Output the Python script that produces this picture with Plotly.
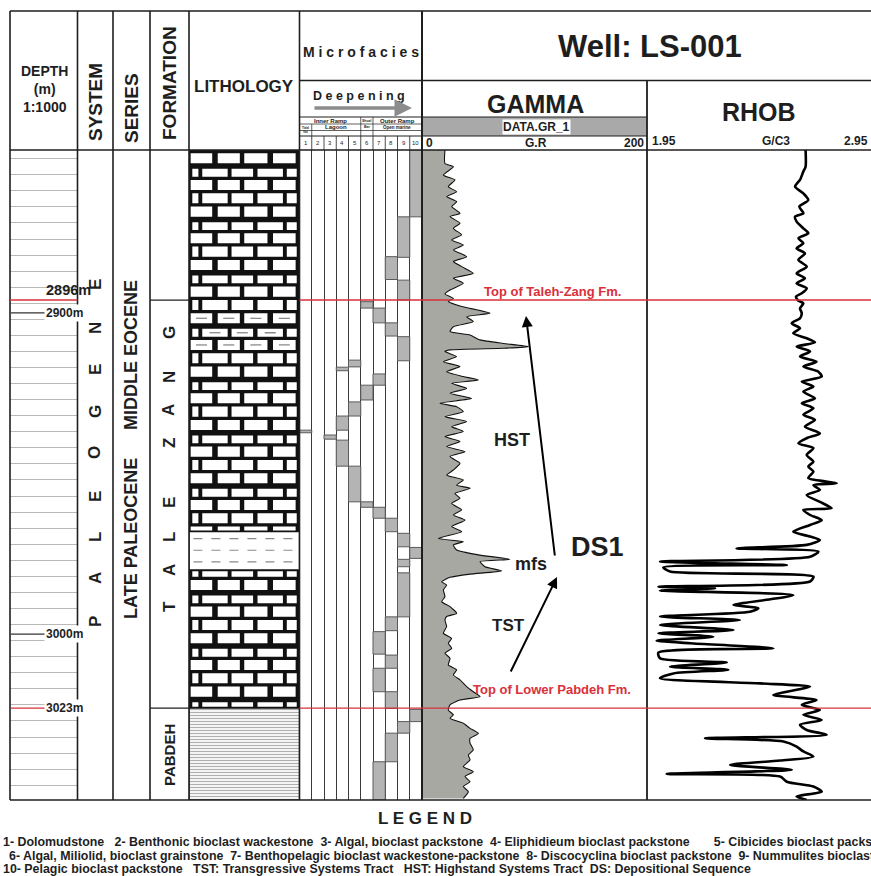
import plotly.graph_objects as go

W, H = 871, 876
def px(x): return x / W
def py(y): return 1 - y / H

# ---------------- data ----------------
DEPTH_TOP, DEPTH_BOT = 2849.3, 3051.6
FM_TOP_DEPTHS = [2896, 3023]
FM_TOP_LABELS = ['Top of Taleh-Zang Fm.', 'Top of Lower Pabdeh Fm.']
DEPTH_MARKS = [2896, 2900, 3000, 3023]
DEPTH_MARK_LABELS = ['2896m', '2900m', '3000m', '3023m']

LITH_TOP = [2849.3, 2968.1, 2980.0, 3023.0]
LITH_BOT = [2968.1, 2980.0, 3023.0, 3051.6]
LITH_KIND = ['limestone', 'marl', 'limestone', 'shale']
ARG_TOP, ARG_BOT = 2901.0, 2911.8

MF_NUMBERS = list(range(1, 11))
MF_COL = [10, 10, 10, 9, 9, 9, 9, 9, 9, 9, 8, 8, 8, 8, 8, 8, 8, 7, 7, 7, 7, 7, 7,
          6, 6, 6, 5, 5, 5, 4, 4, 4, 3, 1]
MF_TOP = [2849.3, 2973.0, 3023.4, 2870.1, 2889.8, 2907.4, 2968.6, 2976.7, 2980.9, 3027.2,
          2882.5, 2903.1, 2963.9, 2994.6, 3006.5, 3017.9, 3030.8,
          2898.5, 2919.0, 2960.5, 2999.2, 3010.6, 3039.7,
          2896.5, 2922.5, 2958.8, 2914.7, 2927.7, 2947.7, 2916.9, 2932.1, 2939.6, 2938.0, 2936.5]
MF_BOT = [2870.1, 2976.4, 3027.2, 2882.7, 2896.0, 2914.9, 2972.8, 2979.0, 2994.6, 3030.8,
          2889.6, 2907.2, 2968.1, 2998.9, 3010.6, 3023.1, 3039.7,
          2903.1, 2922.5, 2963.9, 3006.2, 3017.9, 3051.6,
          2898.5, 2927.1, 2960.5, 2916.8, 2932.1, 2958.8, 2918.0, 2936.5, 2947.7, 2939.3, 2937.3]

GR_DEPTH = [2849.3, 2853.5, 2854.5, 2857.1, 2858.6, 2860.7, 2862.3, 2863.8, 2865.4, 2866.9,
            2869.0, 2870.0, 2872.1, 2873.7, 2875.7, 2877.3, 2878.9, 2880.4, 2882.5, 2884.0,
            2885.6, 2887.7, 2889.2, 2890.8, 2892.9, 2894.1, 2895.5, 2896.5, 2898.0, 2900.1,
            2901.2, 2902.7, 2904.3, 2905.8, 2906.9, 2908.4, 2909.5, 2910.5, 2911.0, 2911.5,
            2912.0, 2913.6, 2915.2, 2916.7, 2918.3, 2919.8, 2920.9, 2921.9, 2923.5, 2925.0,
            2926.6, 2928.1, 2929.2, 2930.7, 2932.3, 2933.8, 2935.4, 2936.9, 2938.5, 2940.0,
            2941.6, 2943.2, 2944.7, 2946.8, 2948.9, 2950.5, 2952.0, 2953.6, 2954.6, 2956.2,
            2957.7, 2959.3, 2961.3, 2962.9, 2964.5, 2966.5, 2968.1, 2970.2, 2971.2, 2972.2,
            2973.8, 2975.3, 2976.7, 2977.4, 2979.0, 2980.3, 2981.3, 2982.3, 2983.7, 2984.7,
            2986.2, 2988.3, 2989.9, 2991.4, 2993.5, 2994.5, 2995.6, 2997.6, 2999.7, 3001.3,
            3002.8, 3004.4, 3005.9, 3007.5, 3009.6, 3011.1, 3012.7, 3014.2, 3016.3, 3017.9,
            3019.4, 3020.5, 3022.0, 3023.6, 3025.1, 3026.2, 3027.7, 3029.3, 3030.9, 3032.4,
            3033.9, 3036.0, 3037.6, 3039.1, 3041.2, 3042.8, 3044.3, 3045.9, 3047.4, 3049.0,
            3051.1]
GR_VAL = [20.4, 20.4, 27.9, 19.0, 29.3, 23.4, 30.8, 21.9, 30.8, 26.4,
          33.8, 24.9, 33.8, 27.9, 35.3, 26.4, 36.7, 27.9, 39.7, 27.9,
          35.3, 45.6, 27.9, 36.7, 24.9, 20.4, 27.9, 23.4, 35.3, 60.4,
          39.7, 45.6, 27.9, 24.9, 42.7, 51.6, 72.3, 94.5, 72.3, 24.9,
          20.4, 30.8, 19.0, 33.8, 21.9, 36.7, 50.1, 26.4, 39.7, 24.9,
          44.1, 16.0, 30.8, 36.7, 20.4, 39.7, 26.4, 36.7, 20.4, 33.8,
          21.9, 38.2, 24.9, 33.8, 27.9, 21.9, 36.7, 30.8, 42.7, 29.3,
          33.8, 26.4, 35.3, 27.9, 38.2, 26.4, 35.3, 14.5, 36.7, 27.9,
          30.8, 50.1, 78.2, 51.6, 56.0, 70.8, 42.7, 24.9, 17.5, 21.9,
          19.0, 20.4, 17.5, 24.9, 30.8, 21.9, 20.4, 21.9, 19.0, 26.4,
          23.4, 26.4, 20.4, 24.9, 23.4, 30.8, 27.9, 33.8, 39.7, 45.6,
          51.6, 33.8, 24.9, 23.4, 27.9, 24.9, 36.7, 42.7, 50.1, 42.7,
          42.7, 45.6, 41.2, 42.7, 36.7, 45.6, 38.2, 42.7, 36.7, 41.2,
          36.7]

RHOB_DEPTH = [2849.3, 2854.5, 2856.0, 2858.6, 2860.7, 2862.8, 2864.9, 2866.9, 2869.0, 2870.0,
              2871.6, 2873.7, 2875.2, 2876.8, 2878.3, 2879.9, 2881.5, 2883.5, 2885.6, 2887.7,
              2889.2, 2890.8, 2892.3, 2893.9, 2894.9, 2896.2, 2897.0, 2898.6, 2900.1, 2901.7,
              2903.2, 2904.8, 2906.3, 2907.9, 2909.2, 2910.5, 2912.0, 2913.6, 2915.2, 2916.7,
              2918.3, 2919.8, 2921.4, 2922.9, 2924.5, 2926.6, 2928.1, 2929.7, 2931.7, 2933.3,
              2935.4, 2937.5, 2939.0, 2940.6, 2942.1, 2944.2, 2946.3, 2947.8, 2949.4, 2951.4,
              2953.0, 2953.6, 2955.1, 2956.7, 2958.8, 2960.8, 2961.3, 2962.9, 2964.5, 2966.0,
              2968.1, 2969.6, 2970.7, 2972.2, 2973.3, 2974.3, 2975.9, 2977.4, 2978.5, 2979.2,
              2980.5, 2982.1, 2983.6, 2985.2, 2985.7, 2986.4, 2987.8, 2989.3, 2990.9, 2991.9,
              2993.0, 2994.5, 2995.6, 2997.1, 2998.7, 2999.7, 3000.8, 3002.0, 3002.8, 3004.4,
              3005.7, 3007.5, 3008.8, 3010.1, 3011.1, 3012.2, 3013.7, 3015.3, 3016.3, 3017.3,
              3018.9, 3020.5, 3022.0, 3023.6, 3025.1, 3026.7, 3028.2, 3029.8, 3031.3, 3032.4,
              3033.4, 3035.0, 3036.5, 3038.1, 3039.3, 3040.7, 3042.2, 3043.5, 3044.3, 3045.9,
              3047.4, 3049.0, 3050.5, 3051.6]
RHOB_VAL = [2.658, 2.658, 2.648, 2.633, 2.611, 2.648, 2.670, 2.630, 2.648, 2.611,
            2.618, 2.648, 2.670, 2.626, 2.648, 2.618, 2.655, 2.626, 2.663, 2.618,
            2.655, 2.618, 2.663, 2.641, 2.615, 2.626, 2.648, 2.633, 2.641, 2.633,
            2.596, 2.633, 2.603, 2.663, 2.700, 2.618, 2.678, 2.633, 2.707, 2.648,
            2.715, 2.730, 2.641, 2.693, 2.648, 2.700, 2.641, 2.693, 2.648, 2.700,
            2.655, 2.722, 2.663, 2.626, 2.693, 2.663, 2.693, 2.670, 2.693, 2.670,
            2.797, 2.693, 2.722, 2.663, 2.722, 2.774, 2.648, 2.678, 2.730, 2.678,
            2.603, 2.678, 2.722, 2.663, 2.350, 2.715, 2.678, 2.008, 2.574, 2.023,
            2.053, 2.693, 2.678, 2.001, 2.254, 2.008, 2.603, 2.484, 2.336, 2.447,
            2.410, 2.008, 2.365, 2.008, 2.336, 2.001, 2.246, 1.993, 2.142, 2.514,
            2.001, 2.008, 2.306, 2.053, 2.313, 2.068, 2.008, 2.455, 2.678, 2.618,
            2.514, 2.707, 2.641, 2.722, 2.648, 2.730, 2.633, 2.663, 2.752, 2.209,
            2.559, 2.618, 2.648, 2.693, 2.544, 2.321, 2.596, 2.038, 2.544, 2.574,
            2.693, 2.730, 2.618, 2.663]

LEGEND_LINES = [
    '1- Dolomudstone   2- Benthonic bioclast wackestone  3- Algal, bioclast packstone  4- Eliphidieum bioclast packstone       5- Cibicides bioclast packstone',
    '6- Algal, Miliolid, bioclast grainstone  7- Benthopelagic bioclast wackestone-packstone  8- Discocyclina bioclast packstone  9- Nummulites bioclast packstone',
    '10- Pelagic bioclast packstone   TST: Transgressive Systems Tract   HST: Highstand Systems Tract  DS: Depositional Sequence',
]

# ---------------- figure ----------------
FONT = 'Liberation Sans, Arial, sans-serif'
INK = '#1e1e1e'
RED = '#d9303a'
fig = go.Figure()

# depth column (only grid)
fig.add_trace(go.Scatter(x=[0.5], y=[2950], mode='markers', marker=dict(opacity=0),
                         xaxis='x', yaxis='y2', hoverinfo='skip'))

# lithology
for t, b, k in zip(LITH_TOP, LITH_BOT, LITH_KIND):
    if k == 'limestone':
        marker = dict(color='#111111', line=dict(width=0))
    elif k == 'marl':
        marker = dict(color='white', line=dict(color='#111', width=1.2))
    else:
        marker = dict(color='#f4f4f4', line=dict(color='#111', width=1.2),
                      pattern=dict(shape='-', fgcolor='#6a6a6a', bgcolor='#f4f4f4',
                                   size=3, solidity=0.35))
    fig.add_trace(go.Bar(x=[0.5], y=[b - t], base=[t], width=[1.0], marker=marker,
                         xaxis='x2', yaxis='y', hoverinfo='skip'))

# brick pattern for limestone (style only)
ROW_P = 4.15
PAT_A = [(0.015, 0.21), (0.26, 0.46), (0.50, 0.71), (0.76, 0.965)]
PAT_B = [(0.03, 0.085), (0.12, 0.35), (0.385, 0.58), (0.62, 0.85), (0.885, 0.975)]
bx, by, dxs, dys = [], [], [], []
r = 0
d = DEPTH_TOP
while d < DEPTH_BOT:
    gap = 1.7 if r % 4 == 1 else 1.0
    y0, y1 = d + gap, d + ROW_P
    for t, b, k in zip(LITH_TOP, LITH_BOT, LITH_KIND):
        if k != 'limestone':
            continue
        a0, a1 = max(y0, t + 0.4), min(y1, b - 0.4)
        if a1 - a0 < 0.8:
            continue
        for x0, x1 in (PAT_A if r % 2 == 0 else PAT_B):
            bx += [x0, x1, x1, x0, x0, None]
            by += [a0, a0, a1, a1, a0, None]
            ym = (a0 + a1) / 2
            if ARG_TOP <= ym <= ARG_BOT and x1 - x0 > 0.1:
                xm = (x0 + x1) / 2
                dxs += [xm - 0.05, xm + 0.05, None]
                dys += [ym, ym, None]
    d += ROW_P
    r += 1
fig.add_trace(go.Scatter(x=bx, y=by, mode='lines', fill='toself', fillcolor='white',
                         line=dict(width=0, color='white'), xaxis='x2', yaxis='y', hoverinfo='skip'))
fig.add_trace(go.Scatter(x=dxs, y=dys, mode='lines', line=dict(width=1.3, color='#8a8a8a'),
                         xaxis='x2', yaxis='y', hoverinfo='skip'))
# marl dashes
for t, b, k in zip(LITH_TOP, LITH_BOT, LITH_KIND):
    if k == 'marl':
        for i in range(3):
            yy = t + (i + 0.6) * (b - t) / 3.3
            fig.add_trace(go.Scatter(x=[0.04, 0.97], y=[yy, yy], mode='lines',
                                     line=dict(color='#8a8a8a', width=1.2, dash='dash'),
                                     xaxis='x2', yaxis='y', hoverinfo='skip'))

# microfacies
fig.add_trace(go.Bar(x=MF_COL, y=[b - t for t, b in zip(MF_TOP, MF_BOT)], base=MF_TOP,
                     width=1.0, marker=dict(color='#b4b4b4', line=dict(color='#5a5a5a', width=1)),
                     xaxis='x3', yaxis='y', hoverinfo='skip'))

# gamma ray
fig.add_trace(go.Scatter(x=GR_VAL, y=GR_DEPTH, mode='lines', fill='tozerox',
                         fillcolor='#a8a8a3', line=dict(color='#111', width=1.1, shape='spline', smoothing=0.5),
                         xaxis='x4', yaxis='y', hoverinfo='skip'))
# density
fig.add_trace(go.Scatter(x=RHOB_VAL, y=RHOB_DEPTH, mode='lines',
                         line=dict(color='#000', width=2.6, shape='spline', smoothing=0.7),
                         xaxis='x5', yaxis='y', hoverinfo='skip'))

# ---------------- axes ----------------
body = [py(800), py(150)]
yr = [DEPTH_BOT, DEPTH_TOP]
hidden = dict(visible=False, fixedrange=True)
fig.update_layout(
    width=W, height=H, margin=dict(l=0, r=0, t=0, b=0),
    paper_bgcolor='white', plot_bgcolor='white', showlegend=False, barmode='overlay',
    xaxis=dict(domain=[px(10), px(77.5)], range=[0, 1], anchor='y2', **hidden),
    yaxis2=dict(domain=body, range=yr, anchor='x', showgrid=True, gridcolor='#b9b9b9', gridwidth=1,
                tick0=2852, dtick=5, showticklabels=False, ticks='', zeroline=False, showline=False),
    xaxis2=dict(domain=[px(189), px(299.5)], range=[0, 1], anchor='y', **hidden),
    xaxis3=dict(domain=[px(299.5), px(422)], range=[0.5, 10.5], anchor='y',
                tickvals=[i + 0.5 for i in range(1, 10)], showgrid=True, gridcolor='#3a3a3a',
                gridwidth=1.4, showticklabels=False, ticks='', zeroline=False, showline=False),
    xaxis4=dict(domain=[px(422), px(647)], range=[0, 200], anchor='y', **hidden),
    xaxis5=dict(domain=[px(647), 1.0], range=[1.95, 2.95], anchor='y', **hidden),
    yaxis=dict(domain=body, range=yr, anchor='x2', **hidden),
)

# ---------------- frame lines ----------------
shapes = []
def hl(y, x0, x1, w=1.5, c=INK):
    shapes.append(dict(type='line', xref='paper', yref='paper', x0=px(x0), x1=px(x1),
                       y0=py(y), y1=py(y), line=dict(color=c, width=w)))
def vl(x, y0, y1, w=1.5, c=INK):
    shapes.append(dict(type='line', xref='paper', yref='paper', x0=px(x), x1=px(x),
                       y0=py(y0), y1=py(y1), line=dict(color=c, width=w)))

shapes.append(dict(type='rect', xref='paper', yref='paper', x0=px(422), x1=px(647),
                   y0=py(136), y1=py(117), fillcolor='#a9a9a9', line=dict(width=0), layer='below'))
hl(11, 10, 871, 2.2, '#555')
hl(80.5, 299.5, 871, 1.6)
hl(150, 10, 871, 1.6)
hl(800, 10, 871, 1.6)
hl(117, 299.5, 647, 1)
hl(124, 299.5, 422, 0.7)
hl(130.5, 299.5, 422, 0.7)
hl(136, 299.5, 647, 1)
for x in [10, 77.5, 113, 150, 189, 299.5]:
    vl(x, 11, 800, 1.6)
vl(422, 11, 800, 2)
vl(647, 80.5, 800, 1.8)
cw = (422 - 299.5) / 10
for i in range(1, 10):
    vl(299.5 + i * cw, 136, 150, 0.8)
vl(299.5 + cw, 124, 136, 0.7)
vl(299.5 + 5 * cw, 117, 136, 0.7)
vl(299.5 + 6 * cw, 117, 136, 0.7)

# formation boundaries in formation column and formation-top lines
for dpt in FM_TOP_DEPTHS:
    shapes.append(dict(type='line', xref='paper', yref='y', x0=px(150), x1=px(189),
                       y0=dpt, y1=dpt, line=dict(color=INK, width=1.3)))
    shapes.append(dict(type='line', xref='paper', yref='y', x0=px(299.5), x1=1.0,
                       y0=dpt, y1=dpt, line=dict(color=RED, width=1.4)))

# depth marks
for dpt, lab in zip(DEPTH_MARKS, DEPTH_MARK_LABELS):
    red = dpt in FM_TOP_DEPTHS
    if dpt == 2896:
        shapes.append(dict(type='line', xref='paper', yref='y', x0=px(10), x1=px(77.5),
                           y0=dpt, y1=dpt, line=dict(color=RED, width=1.4)))
    else:
        shapes.append(dict(type='line', xref='paper', yref='y', x0=px(11), x1=px(76.5),
                           y0=dpt, y1=dpt, line=dict(color=RED if red else '#333', width=1.2)))
fig.update_layout(shapes=shapes)

# ---------------- annotations ----------------
ann = []
def txt(x, y, s, size, angle=0, color=INK, bold=True, xanchor='center', bg=None):
    d = dict(x=px(x), y=py(y), xref='paper', yref='paper', text=('<b>%s</b>' % s) if bold else s,
             showarrow=False, textangle=angle, xanchor=xanchor, yanchor='middle',
             font=dict(family=FONT, size=size, color=color))
    if bg:
        d['bgcolor'] = bg
        d['borderpad'] = 0
    ann.append(d)

txt(44, 89, 'DEPTH<br>(m)<br>1:1000', 14)
txt(95, 102, 'SYSTEM', 19, -90)
txt(131, 108, 'SERIES', 19, -90)
txt(169, 83, 'FORMATION', 19, -90)
txt(244, 86, 'LITHOLOGY', 17)
txt(361, 52, 'M i c r o f a c i e s', 14)
txt(359, 96, 'D e e p e n i n g', 12.5)
txt(650, 47, 'Well: LS-001', 31)
txt(535, 104, 'GAMMA', 25)
txt(536, 127, 'DATA.GR_1', 12, bg='white')
txt(424, 143, '0', 12, xanchor='left')
txt(536, 143, 'G.R', 12)
txt(646, 143, '200', 12, xanchor='right')
txt(759, 112, 'RHOB', 25)
txt(650, 141, '1.95', 12, xanchor='left')
txt(776, 141, 'G/C3', 12)
txt(870, 141, '2.95', 12, xanchor='right')

# microfacies sub-header
txt(330, 120.5, 'Inner Ramp', 6)
txt(367, 120.5, 'Shoal', 3.5)
txt(397, 120.5, 'Outer Ramp', 6)
txt(305.6, 130, 'Tidal<br>flat', 3)
txt(336, 127.5, 'Lagoon', 6)
txt(367, 127.5, 'Bar', 3.5)
txt(397, 127.5, 'Open marine', 4.5)
for n in MF_NUMBERS:
    txt(299.5 + (n - 0.5) * cw, 143, str(n), 6, bold=False)

# system / series / formation
for ch, y in zip('PALEOGENE', [622, 578, 537, 497, 453, 412, 370, 328, 285]):
    txt(95, y, ch, 17, -90)
txt(131, 355, 'MIDDLE EOCENE', 18, -90)
txt(131, 539, 'LATE PALEOCENE', 18, -90)
for ch, y in zip('TALEZANG', [607, 570, 537, 503, 443, 410, 377, 333]):
    txt(169, y, ch, 17, -90)
txt(169, 755, 'PABDEH', 15, -90)

# depth labels
for dpt, lab in zip(DEPTH_MARKS, DEPTH_MARK_LABELS):
    if dpt == 2896:
        ann.append(dict(x=px(44), y=dpt, xref='paper', yref='y', text='<b>%s</b>' % lab,
                        showarrow=False, yshift=10, font=dict(family=FONT, size=14.5, color=INK)))
    else:
        ann.append(dict(x=px(44), y=dpt, xref='paper', yref='y', text='<b>%s</b>' % lab,
                        showarrow=False, bgcolor='white', borderpad=1,
                        font=dict(family=FONT, size=12, color=INK)))

# formation-top labels
for dpt, lab, sh in zip(FM_TOP_DEPTHS, FM_TOP_LABELS, [9, 19]):
    ann.append(dict(x=px(552), y=dpt, xref='paper', yref='y', text='<b>%s</b>' % lab,
                    showarrow=False, yshift=sh, font=dict(family=FONT, size=13, color=RED)))

# sequence stratigraphy
txt(512, 440, 'HST', 18)
txt(508, 625, 'TST', 17)
txt(531, 564, 'mfs', 18)
txt(597, 547, 'DS1', 27)
ann.append(dict(x=px(526), y=py(316), xref='paper', yref='paper', ax=29, ay=241, text='',
                showarrow=True, arrowhead=2, arrowsize=1.1, arrowwidth=2, arrowcolor='#000'))
ann.append(dict(x=px(557), y=py(577), xref='paper', yref='paper', ax=-47, ay=96, text='',
                showarrow=True, arrowhead=2, arrowsize=1.1, arrowwidth=2, arrowcolor='#000'))
ann.append(dict(x=px(412), y=py(108), xref='paper', yref='paper', ax=-99, ay=0, text='',
                showarrow=True, arrowhead=2, arrowsize=1, arrowwidth=3.5, arrowcolor='#8c8c8c'))

# legend
txt(425, 818, 'L E G E N D', 17)
for i, (line, x0) in enumerate(zip(LEGEND_LINES, [1, 7, 1])):
    txt(x0, 842 + 13.5 * i, line, 12.4, xanchor='left')

fig.update_layout(annotations=ann)
fig.write_html('out.html', config={'displayModeBar': False},
               post_script="document.body.style.margin='0';document.body.style.overflow='hidden';")
